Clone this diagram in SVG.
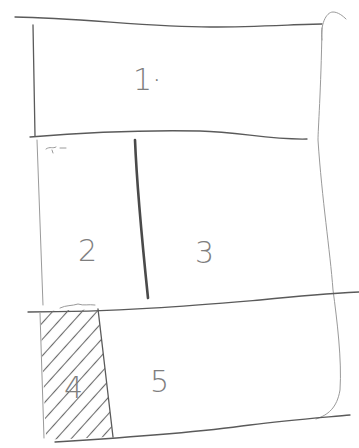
<svg xmlns="http://www.w3.org/2000/svg" width="359" height="448" viewBox="0 0 359 448">
<style>
.ln{fill:none;stroke:#5a5a5a;stroke-width:1.3;stroke-linecap:round}
.lt{fill:none;stroke:#9a9a9a;stroke-width:1;stroke-linecap:round}
.lb{font-family:"DejaVu Sans",sans-serif;font-size:30px;fill:#7e7e7e;font-weight:300}
</style>
<defs>
<pattern id="hatch" patternUnits="userSpaceOnUse" width="11" height="11" patternTransform="rotate(-48)">
<line x1="0" y1="5.5" x2="11" y2="5.5" stroke="#6a6a6a" stroke-width="1.1"/>
</pattern>
<clipPath id="c4"><polygon points="40,311 98,309 113,437 46,440"/></clipPath>
</defs>
<rect width="359" height="448" fill="#fff"/>
<g id="frame">
<path class="ln" d="M15,17 C80,18 150,27 210,27 C260,27 300,24 322,24"/>
<path class="lt" d="M322,40 C320,25 326,12 333,12 C338,12 343,16 346,19"/>
<path class="lt" d="M322,28 C321,90 318,130 318,140 C322,200 330,250 333,290 C337,320 342,360 340,390 C337,408 328,415 316,419"/>
<path class="ln" d="M33,25 L35,136"/>
</g>
<g id="node1">
<path class="ln" d="M30,137 C90,132 150,130 200,131 C240,132 270,140 307,139"/>
<text class="lb" x="133" y="90" font-size="26">1·</text>
</g>
<g id="node2">
<path class="lt" d="M37,140 L43,305"/>
<path class="lt" d="M46,149 C50,146 53,149 56,147 M52,150 L53,153 M60,148 L66,148"/>
<text class="lb" x="78" y="261">2</text>
</g>
<g id="node3">
<path d="M135,140 C137,190 143,250 148,298" fill="none" stroke="#4a4a4a" stroke-width="2.6" stroke-linecap="round"/>
<text class="lb" x="195" y="263">3</text>
</g>
<g id="row3">
<path class="ln" d="M28,312 C120,312 200,305 260,300 C300,296 340,293 359,292"/>
<path class="lt" d="M60,308 C66,305 72,306 78,304 C84,306 88,304 95,305"/>
</g>
<g id="node4">
<polygon points="40,311 98,309 113,437 46,440" fill="url(#hatch)" clip-path="url(#c4)"/>
<path class="ln" d="M98,309 L113,437"/>
<path class="lt" d="M40,313 L44,438"/>
<text class="lb" x="64" y="398">4</text>
</g>
<g id="node5">
<path class="ln" d="M55,442 C120,438 200,432 250,425 C290,420 330,417 350,415"/>
<text class="lb" x="150" y="392">5</text>
</g>
</svg>
